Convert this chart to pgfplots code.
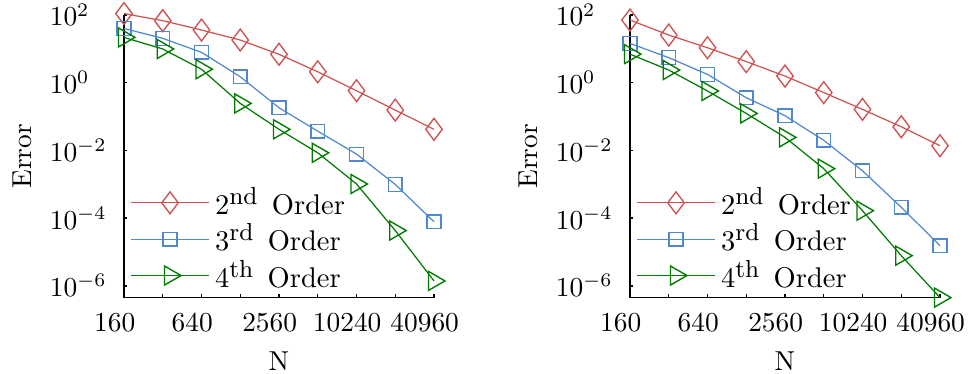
\documentclass[border=0pt]{standalone}
\usepackage{pgfplots}
\pgfplotsset{compat=1.18}
\definecolor{cred}{RGB}{206,84,84}
\definecolor{cblue}{RGB}{80,136,206}
\definecolor{cgreen}{RGB}{0,122,0}
\pgfplotsset{
  s2/.style={color=cred, line width=0.45pt, mark=diamond, mark size=4pt, mark options={solid, line width=0.5pt}},
  s3/.style={color=cblue, line width=0.45pt, mark=square, mark size=2.5pt, mark options={solid, line width=0.5pt}},
  s4/.style={color=cgreen, line width=0.45pt, mark=triangle, mark size=4pt, mark options={solid, rotate=270, line width=0.5pt}},
}
\newcommand{\ord}[2]{#1\textsuperscript{\small #2}\hspace{1.3pt} Order}
\begin{document}
\begin{tikzpicture}
\useasboundingbox (0,0) rectangle (354.42pt,-136.51pt);
\pgfplotsset{
  every axis/.append style={
    scale only axis,
    width=113.15pt, height=103.19pt,
    xmin=160, xmax=40960,
    ymin=4.47e-7, ymax=100,
    axis x line=bottom, axis y line=left,
    axis line style={-, line width=0.5pt, black},
    clip=false,
    tick align=inside,
    major tick length=1.2pt,
    tick style={black, line width=0.5pt},
    xtick={160,320,640,1280,2560,5120,10240,20480,40960},
    xticklabels={160,,640,,2560,,10240,,40960},
    ytick={1e-6,1e-4,1e-2,1,1e2},
    minor tick num=0,
    xticklabel style={anchor=base, xshift=-3.4pt, yshift=-12.4pt},
    yticklabel style={anchor=base west, xshift=-30.6pt, yshift=-4.0pt},
    xlabel style={at={([yshift=-23.1pt]axis description cs:0.5,0)}, anchor=center},
    ylabel style={at={([xshift=-37.2pt]axis description cs:0,0.5)}, anchor=center},
    legend cell align=left,
    legend style={draw=none, fill=none, font=\fontsize{10.4}{12.5}\selectfont, at={([xshift=-0.85pt,yshift=-1.8pt]axis description cs:0,0)}, anchor=south west, row sep=-2.1pt},
    legend image code/.code={\draw[mark repeat=2,mark phase=2] plot coordinates {(0cm,0cm) (0.5cm,0cm) (1.0cm,0cm)};},
  }
}
\begin{loglogaxis}[at={(45.26pt,-108.66pt)}, anchor=south west, xlabel={N}, ylabel={Error}]
\addplot[s2] coordinates {(160,110) (320,68) (640,36) (1280,18.2) (2560,6.9) (5120,2.1) (10240,0.58) (20480,0.155) (40960,0.042)};
\addplot[s3] coordinates {(160,40) (320,20.4) (640,7.9) (1280,1.5) (2560,0.182) (5120,0.037) (10240,0.0078) (20480,9.9e-4) (40960,7.8e-5)};
\addplot[s4] coordinates {(160,21.8) (320,9.9) (640,2.5) (1280,0.245) (2560,0.042) (5120,0.0085) (10240,1.02e-3) (20480,4.3e-5) (40960,1.4e-6)};
\legend{\ord{2}{nd}, \ord{3}{rd}, \ord{4}{th}}
\end{loglogaxis}
\begin{loglogaxis}[at={(229.95pt,-108.66pt)}, anchor=south west, xlabel={N}, ylabel={Error}]
\addplot[s2] coordinates {(160,71) (320,25.6) (640,10.8) (1280,4.2) (2560,1.57) (5120,0.51) (10240,0.163) (20480,0.050) (40960,0.0138)};
\addplot[s3] coordinates {(160,14.5) (320,5.5) (640,1.76) (1280,0.36) (2560,0.106) (5120,0.0199) (10240,0.0025) (20480,2.1e-4) (40960,1.53e-5)};
\addplot[s4] coordinates {(160,7.0) (320,2.37) (640,0.57) (1280,0.124) (2560,0.0243) (5120,0.0029) (10240,1.66e-4) (20480,7.8e-6) (40960,4.5e-7)};
\legend{\ord{2}{nd}, \ord{3}{rd}, \ord{4}{th}}
\end{loglogaxis}
\end{tikzpicture}
\end{document}
